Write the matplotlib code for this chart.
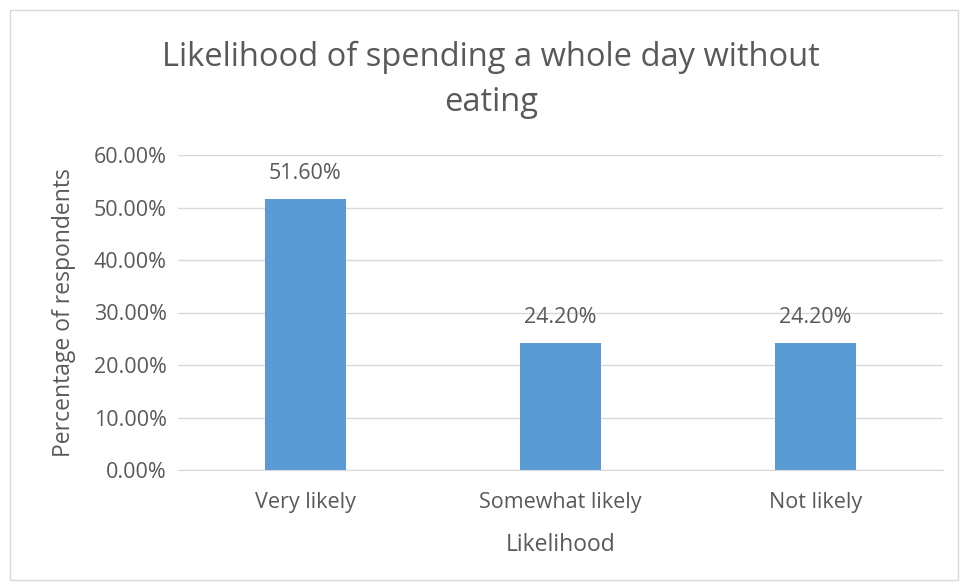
import matplotlib
matplotlib.use("Agg")
import matplotlib.pyplot as plt
from matplotlib.patches import Rectangle
from matplotlib.ticker import FuncFormatter

# ── Data ───────────────────────────────────────────────────────────────────
categories = ["Very likely", "Somewhat likely", "Not likely"]
values     = [51.6, 24.2, 24.2]
yticks     = [0, 10, 20, 30, 40, 50, 60]

BAR   = "#5B9BD5"
GRID  = "#D9D9D9"
TEXT  = "#595959"

plt.rcParams["font.family"] = ["Open Sans", "DejaVu Sans"]

W, H = 960, 584
fig = plt.figure(figsize=(W / 100, H / 100), dpi=100)

# chart border
fig.patches.append(Rectangle((10 / W, 4 / H), 948 / W, 570 / H,
                             transform=fig.transFigure, fill=False,
                             edgecolor="#D9D9D9", linewidth=1))

ax = fig.add_axes([178 / W, 1 - 470 / H, (943 - 178) / W, (470 - 155) / H])

x = range(len(categories))
bars = ax.bar(x, values, width=0.314, color=BAR, zorder=3)

for b, v in zip(bars, values):
    ax.annotate(f"{v:.2f}%", (b.get_x() + b.get_width() / 2, v),
                xytext=(0, 11), textcoords="offset points",
                ha="center", va="bottom", fontsize=15.5, color=TEXT)

ax.set_xlim(-0.5, len(categories) - 0.5)
ax.set_ylim(0, 60)
ax.set_yticks(yticks)
ax.yaxis.set_major_formatter(FuncFormatter(lambda v, _: f"{v:.2f}%"))
ax.set_xticks(list(x))
ax.set_xticklabels(categories)

ax.grid(axis="y", color=GRID, linewidth=1, zorder=0)
for s in ["top", "right", "left"]:
    ax.spines[s].set_visible(False)
ax.spines["bottom"].set_color(GRID)
ax.tick_params(axis="both", length=0, labelsize=15.5, colors=TEXT)
ax.tick_params(axis="x", pad=16)
ax.tick_params(axis="y", pad=8)

ax.set_xlabel("Likelihood", fontsize=16.5, color=TEXT, labelpad=14)
ax.set_ylabel("Percentage of respondents", fontsize=16.5, color=TEXT, labelpad=13)

fig.text(491 / W, 1 - 80 / H, "Likelihood of spending a whole day without\neating",
         ha="center", va="center", fontsize=23.5, color=TEXT, linespacing=1.45)

fig.savefig("out.png", dpi=100)
